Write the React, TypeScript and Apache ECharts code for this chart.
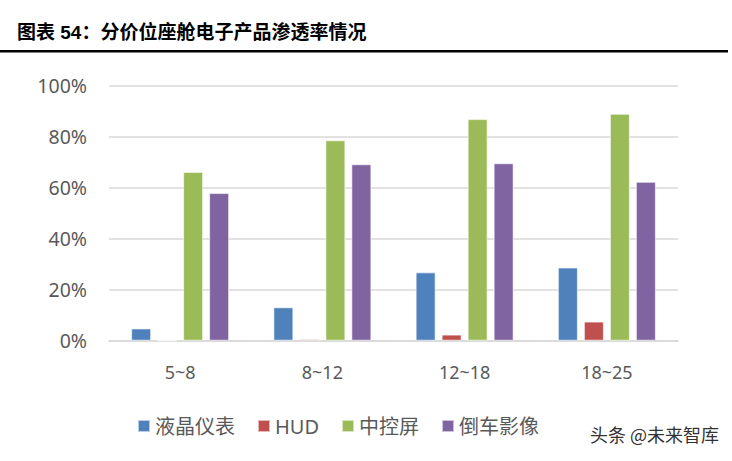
import React, { useEffect, useRef } from "react";
import * as echarts from "echarts";

const categories = ["5~8", "8~12", "12~18", "18~25"];
const seriesNames = ["液晶仪表", "HUD", "中控屏", "倒车影像"];
const lcdValues = [4.8, 13.1, 26.8, 28.7];
const hudValues = [0, 0.6, 2.4, 7.5];
const centerValues = [66.2, 78.6, 86.9, 89.0];
const reverseValues = [57.9, 69.2, 69.6, 62.3];
const yTicks = [0, 20, 40, 60, 80, 100];
const colors = ["#4F81BD", "#C0504D", "#9BBB59", "#8064A2"];
const titleText = "图表 54：分价位座舱电子产品渗透率情况";
const watermark = "头条 @未来智库";

export default function App() {
  const ref = useRef<HTMLDivElement>(null);
  useEffect(() => {
    document.body.style.margin = "0";
    const chart = echarts.init(ref.current!, null, { renderer: "svg" });
    const allValues = [lcdValues, hudValues, centerValues, reverseValues];
    const font = "'Noto Sans', 'Noto Sans CJK SC', sans-serif";
    chart.setOption({
      animation: false,
      backgroundColor: "#ffffff",
      color: colors,
      title: {
        text: titleText,
        left: 12,
        top: 18,
        textStyle: {
          fontSize: 19,
          fontWeight: "bold",
          color: "#000000",
          fontFamily: "'Liberation Sans', 'Noto Sans CJK SC', sans-serif",
        },
      },
      graphic: [
        {
          type: "rect",
          shape: { x: 0, y: 50, width: 728, height: 2.5 },
          style: { fill: "#000000" },
        },
        {
          type: "text",
          x: 590,
          y: 425,
          style: {
            text: watermark,
            fontSize: 18,
            fill: "#333333",
            fontFamily: "'Noto Sans CJK SC', sans-serif",
            stroke: "#ffffff",
            lineWidth: 2,
          },
          z: 100,
        },
      ],
      legend: {
        data: seriesNames,
        left: 132,
        top: 411,
        itemWidth: 12,
        itemHeight: 12,
        itemGap: 22,
        icon: "rect",
        textStyle: { fontSize: 20, color: "#595959", fontFamily: font },
      },
      grid: { left: 109, right: 54, top: 85.7, bottom: 120.3 },
      xAxis: {
        type: "category",
        data: categories,
        axisLine: { lineStyle: { color: "#D9D9D9", width: 1.5 } },
        axisTick: { show: false },
        axisLabel: { fontSize: 18, color: "#595959", margin: 22, fontFamily: font },
      },
      yAxis: {
        type: "value",
        min: yTicks[0],
        max: yTicks[yTicks.length - 1],
        interval: 20,
        axisLine: { show: false },
        axisTick: { show: false },
        splitLine: { lineStyle: { color: "#D9D9D9", width: 1.5 } },
        axisLabel: {
          fontSize: 19.5,
          color: "#595959",
          margin: 22,
          fontFamily: font,
          formatter: (v: number) => v + "%",
        },
      },
      series: seriesNames.map((name, i) => ({
        name,
        type: "bar",
        data: allValues[i],
        barWidth: 20,
        barGap: "30%",
        itemStyle: {
          color: colors[i],
          borderColor: "rgba(255,255,255,0.6)",
          borderWidth: 1,
        },
      })),
    });
    return () => chart.dispose();
  }, []);
  return (
    <div
      ref={ref}
      style={{ position: "absolute", left: 0, top: 0, width: 732, height: 461 }}
    />
  );
}
